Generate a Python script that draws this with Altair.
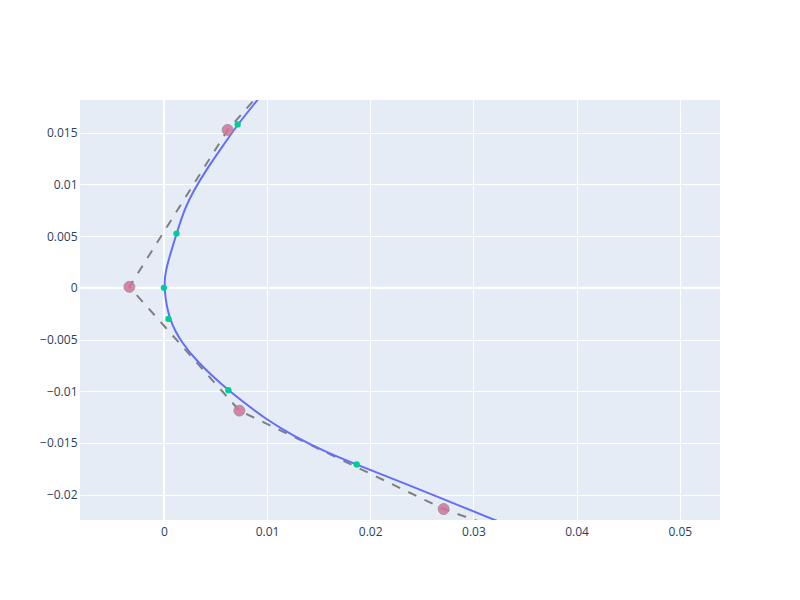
import altair as alt
import pandas as pd

# Blue curve (top to bottom; ends extend past the visible area)
curve_x = [0.010865, 0.009038, 0.007153, 0.005520, 0.004062, 0.002877, 0.002051,
           0.001224, 0.000535, 0.000126, 0.0, 0.000447, 0.001749, 0.003236,
           0.004937, 0.006278, 0.007561, 0.009990, 0.012420, 0.015627, 0.018688,
           0.022964, 0.027434, 0.032362, 0.035093]
curve_y = [0.020388, 0.018126, 0.015796, 0.013437, 0.011330, 0.009388, 0.007738,
           0.005243, 0.002981, 0.001427, 0.0, -0.003010, -0.005369, -0.007117,
           -0.008738, -0.009903, -0.010932, -0.012777, -0.014233, -0.015854, -0.017087,
           -0.018767, -0.020563, -0.022583, -0.023621]

# Control polygon (dashed), including points beyond the visible area
poly_x = [0.02358, 0.006181, -0.003343, 0.007318, 0.027114, 0.0600]
poly_y = [0.03500, 0.015262, 0.000097, -0.011874, -0.021388, -0.0330]

# Visible control points (pink)
ctrl_x = [0.006181, -0.003343, 0.007318, 0.027114]
ctrl_y = [0.015262, 0.000097, -0.011874, -0.021388]

# Points on the curve (green)
pts_x = [0.007153, 0.001224, 0.0, 0.000447, 0.006249, 0.018688]
pts_y = [0.015796, 0.005243, 0.0, -0.003010, -0.009903, -0.017087]

x_ticks = [0, 0.01, 0.02, 0.03, 0.04, 0.05]
y_ticks = [-0.02, -0.015, -0.01, -0.005, 0, 0.005, 0.01, 0.015]

x_domain = [-0.00813, 0.0539]
y_domain = [-0.02245, 0.01816]

curve_df = pd.DataFrame({"x": curve_x, "y": curve_y, "i": range(len(curve_x))})
poly_df = pd.DataFrame({"x": poly_x, "y": poly_y, "i": range(len(poly_x))})
ctrl_df = pd.DataFrame({"x": ctrl_x, "y": ctrl_y})
pts_df = pd.DataFrame({"x": pts_x, "y": pts_y})
zero_df = pd.DataFrame({"x": [0.0], "y": [0.0]})

font = "Open Sans"
label_color = "#2a3f5f"

xs = alt.Scale(domain=x_domain, nice=False, zero=False)
ys = alt.Scale(domain=y_domain, nice=False, zero=False)

xax = alt.Axis(values=x_ticks, format="~g", title=None, grid=True, gridColor="white",
               gridWidth=1, domain=False, ticks=False, labelPadding=6,
               labelFont=font, labelFontSize=12, labelColor=label_color)
yax = alt.Axis(values=y_ticks, format="~g", title=None, grid=True, gridColor="white",
               gridWidth=1, domain=False, ticks=False, labelPadding=3,
               labelFont=font, labelFontSize=12, labelColor=label_color)

X = alt.X("x:Q", scale=xs, axis=xax)
Y = alt.Y("y:Q", scale=ys, axis=yax)

zero_x = alt.Chart(zero_df).mark_rule(color="white", strokeWidth=2).encode(x=X)
zero_y = alt.Chart(zero_df).mark_rule(color="white", strokeWidth=2).encode(y=Y)

poly = alt.Chart(poly_df).mark_line(color="#7f7f7f", strokeWidth=2, strokeDash=[9, 9],
                                    clip=True).encode(x=X, y=Y, order="i:Q")

curve = alt.Chart(curve_df).mark_line(color="#636efa", strokeWidth=2, clip=True,
                                      interpolate="basis").encode(x=X, y=Y, order="i:Q")

ctrl = alt.Chart(ctrl_df).mark_circle(size=120, color="#d8709a", opacity=0.85,
                                      stroke="#8c8c8c", strokeWidth=1, clip=True).encode(x=X, y=Y)

pts = alt.Chart(pts_df).mark_circle(size=40, color="#00cc96", opacity=1, clip=True).encode(x=X, y=Y)

chart = alt.layer(zero_x, zero_y, poly, curve, ctrl, pts).properties(
    width=640, height=420,
    autosize=alt.AutoSizeParams(type="none"),
    padding={"left": 72, "top": 92, "right": 72, "bottom": 64},
).configure_view(fill="#E5ECF6", strokeWidth=0)

chart.save("out.html", embed_options={"renderer": "svg", "actions": False})
